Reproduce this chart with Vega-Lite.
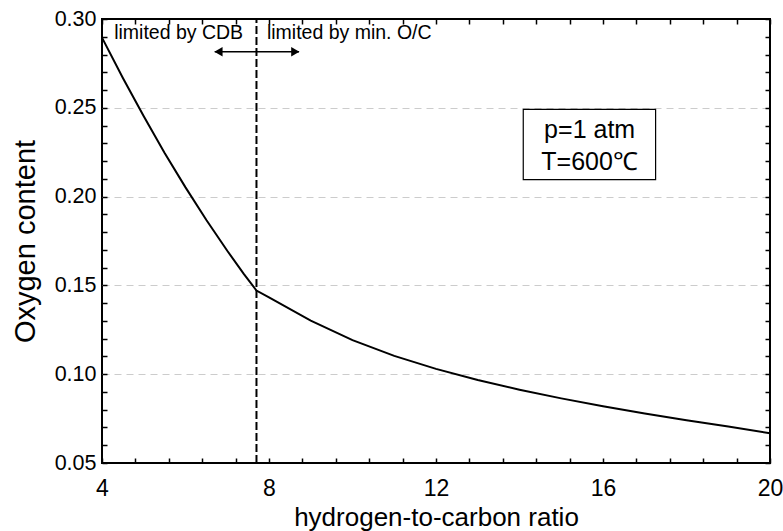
{
  "$schema": "https://vega.github.io/schema/vega-lite/v6.json",
  "width": 668,
  "height": 444,
  "autosize": {"type": "none"},
  "padding": {"left": 102, "top": 19, "right": 13, "bottom": 68},
  "config": {
    "view": {"stroke": "black", "strokeWidth": 2},
    "font": "Liberation Sans",
    "axis": {"labelFont": "Liberation Sans", "titleFont": "Liberation Sans", "labelColor": "black", "titleColor": "black", "titleFontWeight": "normal", "tickColor": "black", "tickWidth": 1.5, "domain": false}
  },
  "datasets": {
    "curve": [
      {"x": 4.0, "y": 0.2895}, {"x": 4.5, "y": 0.2668}, {"x": 5.0, "y": 0.2452}, {"x": 5.5, "y": 0.2246},
      {"x": 6.0, "y": 0.2052}, {"x": 6.5, "y": 0.1868}, {"x": 7.0, "y": 0.1695}, {"x": 7.4, "y": 0.1564},
      {"x": 7.7, "y": 0.1471}, {"x": 8.0, "y": 0.1433}, {"x": 9.0, "y": 0.1302}, {"x": 10.0, "y": 0.1192},
      {"x": 11.0, "y": 0.1103}, {"x": 12.0, "y": 0.1030}, {"x": 13.0, "y": 0.0967}, {"x": 14.0, "y": 0.0913},
      {"x": 15.0, "y": 0.0864}, {"x": 16.0, "y": 0.0819}, {"x": 17.0, "y": 0.0779}, {"x": 18.0, "y": 0.0741},
      {"x": 19.0, "y": 0.0705}, {"x": 20.0, "y": 0.0668}
    ]
  },
  "layer": [
    {
      "data": {"name": "curve"},
      "mark": {"type": "line", "color": "black", "strokeWidth": 2},
      "encoding": {
        "x": {"field": "x", "type": "quantitative", "scale": {"domain": [4, 20], "nice": false, "zero": false},
          "axis": {"orient": "bottom", "title": "hydrogen-to-carbon ratio", "titleFontSize": 26, "titleBaseline": "alphabetic", "titleY": 62,
            "values": [4, 4.8, 5.6, 6.4, 7.2, 8, 8.8, 9.6, 10.4, 11.2, 12, 12.8, 13.6, 14.4, 15.2, 16, 16.8, 17.6, 18.4, 19.2, 20],
            "labelExpr": "datum.value % 4 == 0 ? format(datum.value, 'd') : ''", "labelFontSize": 23, "labelPadding": 19,
            "labelOverlap": false, "labelFlush": false, "tickSize": -5, "grid": false}},
        "y": {"field": "y", "type": "quantitative", "scale": {"domain": [0.05, 0.30], "nice": false, "zero": false},
          "axis": {"orient": "left", "title": "Oxygen content", "titleFontSize": 29, "titleBaseline": "alphabetic", "titleX": -68,
            "values": [0.05, 0.06, 0.07, 0.08, 0.09, 0.1, 0.11, 0.12, 0.13, 0.14, 0.15, 0.16, 0.17, 0.18, 0.19, 0.2, 0.21, 0.22, 0.23, 0.24, 0.25, 0.26, 0.27, 0.28, 0.29, 0.3],
            "labelExpr": "round(datum.value * 100) % 5 == 0 ? format(datum.value, '.2f') : ''", "labelFontSize": 21.5, "labelPadding": 11,
            "labelOverlap": false, "labelFlush": false, "tickSize": -5,
            "grid": true, "gridColor": "#cccccc", "gridDash": [7, 5], "gridWidth": 1,
            "gridOpacity": {"condition": {"test": "datum.value > 0.06 && datum.value < 0.29 && round(datum.value * 100) % 5 == 0", "value": 1}, "value": 0}}}
      }
    },
    {
      "data": {"name": "curve"},
      "mark": {"type": "point", "opacity": 0},
      "encoding": {
        "x": {"field": "x", "type": "quantitative", "scale": {"domain": [4, 20], "nice": false, "zero": false},
          "axis": {"orient": "top", "title": null, "labels": false, "tickSize": -5, "grid": false,
            "values": [4, 4.8, 5.6, 6.4, 7.2, 8, 8.8, 9.6, 10.4, 11.2, 12, 12.8, 13.6, 14.4, 15.2, 16, 16.8, 17.6, 18.4, 19.2, 20]}},
        "y": {"field": "y", "type": "quantitative", "scale": {"domain": [0.05, 0.30], "nice": false, "zero": false},
          "axis": {"orient": "right", "title": null, "labels": false, "tickSize": -5, "grid": false,
            "values": [0.05, 0.06, 0.07, 0.08, 0.09, 0.1, 0.11, 0.12, 0.13, 0.14, 0.15, 0.16, 0.17, 0.18, 0.19, 0.2, 0.21, 0.22, 0.23, 0.24, 0.25, 0.26, 0.27, 0.28, 0.29, 0.3]}}
      }
    },
    {
      "data": {"values": [{"x": 7.7, "y": 0.05, "y2": 0.30}]},
      "mark": {"type": "rule", "color": "black", "strokeWidth": 2, "strokeDash": [8, 3]},
      "encoding": {
        "x": {"field": "x", "type": "quantitative", "axis": null},
        "y": {"field": "y", "type": "quantitative", "axis": null},
        "y2": {"field": "y2"}
      }
    },
    {
      "data": {"values": [{"x": 6.7, "x2": 8.72, "y": 0.2816}]},
      "mark": {"type": "rule", "color": "black", "strokeWidth": 1.5},
      "encoding": {
        "x": {"field": "x", "type": "quantitative", "axis": null},
        "x2": {"field": "x2"},
        "y": {"field": "y", "type": "quantitative", "axis": null}
      }
    },
    {
      "data": {"values": [{"x": 6.79, "y": 0.2816, "shape": "triangle-left"}, {"x": 8.63, "y": 0.2816, "shape": "triangle-right"}]},
      "mark": {"type": "point", "filled": true, "color": "black", "opacity": 1, "size": 90},
      "encoding": {
        "x": {"field": "x", "type": "quantitative", "axis": null},
        "y": {"field": "y", "type": "quantitative", "axis": null},
        "shape": {"field": "shape", "type": "nominal", "scale": null, "legend": null}
      }
    },
    {
      "data": {"values": [{"x": 7.38, "y": 0.2886, "label": "limited by CDB"}]},
      "mark": {"type": "text", "align": "right", "baseline": "alphabetic", "fontSize": 19.5, "color": "black", "font": "Liberation Sans"},
      "encoding": {
        "x": {"field": "x", "type": "quantitative", "axis": null},
        "y": {"field": "y", "type": "quantitative", "axis": null},
        "text": {"field": "label"}
      }
    },
    {
      "data": {"values": [{"x": 7.95, "y": 0.2886, "label": "limited by min. O/C"}]},
      "mark": {"type": "text", "align": "left", "baseline": "alphabetic", "fontSize": 19.5, "color": "black", "font": "Liberation Sans"},
      "encoding": {
        "x": {"field": "x", "type": "quantitative", "axis": null},
        "y": {"field": "y", "type": "quantitative", "axis": null},
        "text": {"field": "label"}
      }
    },
    {
      "data": {"values": [{"x": 14.09, "x2": 17.26, "y": 0.2491, "y2": 0.2096}]},
      "mark": {"type": "rect", "fill": "white", "stroke": "black", "strokeWidth": 1.2},
      "encoding": {
        "x": {"field": "x", "type": "quantitative", "axis": null},
        "x2": {"field": "x2"},
        "y": {"field": "y", "type": "quantitative", "axis": null},
        "y2": {"field": "y2"}
      }
    },
    {
      "data": {"values": [{"x": 15.68, "y": 0.2374, "label": "p=1 atm"}, {"x": 15.68, "y": 0.2194, "label": "T=600℃"}]},
      "mark": {"type": "text", "align": "center", "baseline": "middle", "fontSize": 25, "color": "black", "font": "Liberation Sans"},
      "encoding": {
        "x": {"field": "x", "type": "quantitative", "axis": null},
        "y": {"field": "y", "type": "quantitative", "axis": null},
        "text": {"field": "label"}
      }
    }
  ],
  "resolve": {"axis": {"x": "independent", "y": "independent"}}
}
